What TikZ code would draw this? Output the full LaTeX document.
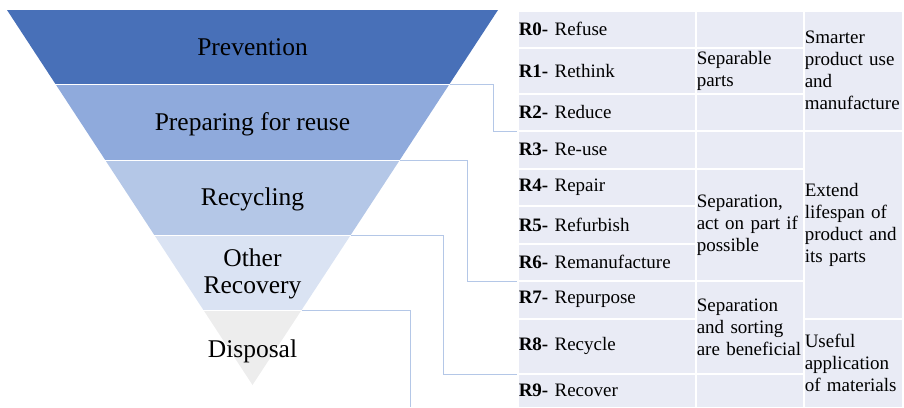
\documentclass[tikz,border=0pt]{standalone}
\usepackage{fontspec}
\setmainfont{Liberation Serif}
\hyphenpenalty=10000
\definecolor{tierA}{HTML}{4870B8}
\definecolor{tierB}{HTML}{8FAADC}
\definecolor{tierC}{HTML}{B4C7E7}
\definecolor{tierD}{HTML}{DAE3F3}
\definecolor{tierE}{HTML}{EDEDED}
\definecolor{tablebg}{HTML}{E9EBF5}
\definecolor{linkblue}{HTML}{B4C7E7}
\begin{document}
\begin{tikzpicture}[x=1pt, y=-1pt,
  tier/.style={font=\fontsize{25.5}{27}\selectfont, align=center, inner sep=0pt},
  cell/.style={fill=tablebg, draw=white, line width=1.5pt, anchor=north west,
    inner xsep=1pt, inner ysep=0pt, align=left,
    font=\fontsize{19}{22}\selectfont},
  link/.style={draw=linkblue, line width=1pt}]
  \useasboundingbox (0,0) rectangle (904,407);
  % funnel
  \coordinate (a0l) at (7,10);       \coordinate (a0r) at (498,10);
  \coordinate (a1l) at (55.45,84);   \coordinate (a1r) at (449.55,84);
  \coordinate (a2l) at (105.2,160);  \coordinate (a2r) at (399.8,160);
  \coordinate (a3l) at (154.3,235);  \coordinate (a3r) at (350.7,235);
  \coordinate (a4l) at (203.4,310);  \coordinate (a4r) at (301.6,310);
  \coordinate (apex) at (252.5,385);
  \fill[tierA] (a0l) -- (a0r) -- (a1r) -- (a1l) -- cycle;
  \fill[tierB] (a1l) -- (a1r) -- (a2r) -- (a2l) -- cycle;
  \fill[tierC] (a2l) -- (a2r) -- (a3r) -- (a3l) -- cycle;
  \fill[tierD] (a3l) -- (a3r) -- (a4r) -- (a4l) -- cycle;
  \fill[tierE] (a4l) -- (a4r) -- (apex) -- cycle;
  \foreach \i in {1,2,3,4}
    \draw[white, line width=1pt] (a\i l) -- (a\i r);
  \node[tier, anchor=base] (prev) at (252.5,55) {Prevention};
  \node[tier, anchor=base] (reuse) at (252.5,130) {Preparing for reuse};
  \node[tier, anchor=base] (recyc) at (252.5,205) {Recycling};
  \node[tier] (other) at (252.5,273.5) {Other\\Recovery};
  \node[tier, anchor=base] (disp) at (252.5,357) {Disposal};
  % table, first column
  \foreach \n/\t/\b/\lab in {0/10/47/Refuse, 1/47/93/Rethink, 2/93/130/Reduce,
      3/130/168/Re-use, 4/168/205/Repair, 5/205/243/Refurbish,
      6/243/280/Remanufacture, 7/280/318/Repurpose, 8/318/373/Recycle,
      9/373/407/Recover}
    \node[cell, minimum width=178, minimum height=\b-\t, text width=176]
      (r\n) at (517,\t) {\textbf{R\n-} \lab};
  % second column
  \node[cell, minimum width=108, minimum height=37, text width=106] (s0) at (695,10) {};
  \node[cell, minimum width=108, minimum height=46, text width=106] (s1) at (695,47) {Separable\\parts};
  \node[cell, minimum width=108, minimum height=37, text width=106] (s2) at (695,93) {};
  \node[cell, minimum width=108, minimum height=38, text width=106] (s3) at (695,130) {};
  \node[cell, minimum width=108, minimum height=112, text width=106] (s4) at (695,168) {Separation,\\act on part if\\possible};
  \node[cell, minimum width=108, minimum height=93, text width=106] (s7) at (695,280) {Separation\\and sorting\\are beneficial};
  \node[cell, minimum width=108, minimum height=34, text width=106] (s9) at (695,373) {};
  % third column
  \node[cell, minimum width=99, minimum height=120, text width=97] (t0) at (803,10) {Smarter\\product use\\and\\manufacture};
  \node[cell, minimum width=99, minimum height=188, text width=97] (t3) at (803,130) {Extend\\lifespan of\\product and\\its parts};
  \node[cell, minimum width=99, minimum height=89, text width=97] (t8) at (803,318) {Useful\\application\\of materials};
  % connectors
  \coordinate (drop) at (410,407);
  \draw[link] (a1r) -- ++(43.5,0) |- (r2.south west);
  \draw[link] (a2r) -- ++(67.2,0) |- (r6.south west);
  \draw[link] (a3r) -- ++(92.3,0) |- (r8.south west);
  \draw[link] (a4r) -| (drop);
\end{tikzpicture}
\end{document}
